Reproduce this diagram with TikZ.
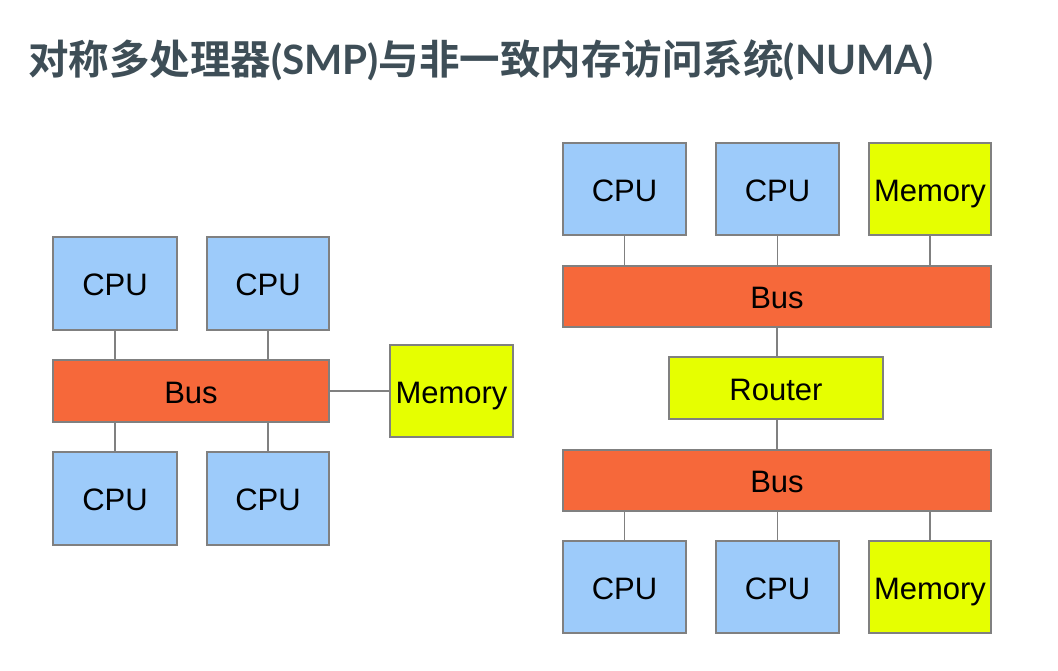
\documentclass[tikz,border=0pt]{standalone}
\usepackage{fontspec}
\setmainfont{Liberation Sans}
\newfontfamily\cjk{Noto Sans CJK SC}[BoldFont={Noto Sans CJK SC Bold}]
\newfontfamily\latotitle{Lato}
\definecolor{cpublue}{HTML}{9DCBFA}
\definecolor{busorange}{HTML}{F6683A}
\definecolor{memyellow}{HTML}{E6FF00}
\definecolor{edgegray}{HTML}{808080}
\definecolor{titlegray}{HTML}{3E4E57}
\begin{document}
\begin{tikzpicture}[x=1pt,y=-1pt,
  box/.style={draw=edgegray,line width=1.2pt,inner sep=0pt,font=\fontsize{31}{33}\selectfont,text=black,text height=25pt,text depth=1pt},
  cpu/.style={box,fill=cpublue},
  mem/.style={box,fill=memyellow},
  bus/.style={box,fill=busorange},
  link/.style={draw=edgegray,line width=1.2pt}]
\useasboundingbox (0,0) rectangle (1058,670);
\fill[white] (0,0) rectangle (1058,670);
\node[anchor=base west,text=titlegray,inner sep=0pt,font=\fontsize{40.5}{42}\selectfont\bfseries] (title) at (28,74)
  {{\cjk 对称多处理器}{\latotitle\bfseries (SMP)}{\cjk 与非一致内存访问系统}{\latotitle\bfseries (NUMA)}};
% SMP
\node[cpu,minimum width=124pt,minimum height=93pt] (c1) at (115,283.5) {CPU};
\node[cpu,minimum width=122pt,minimum height=93pt] (c2) at (268,283.5) {CPU};
\node[bus,minimum width=276pt,minimum height=62pt] (b1) at (191,391) {Bus};
\node[cpu,minimum width=124pt,minimum height=93pt] (c3) at (115,498.5) {CPU};
\node[cpu,minimum width=122pt,minimum height=93pt] (c4) at (268,498.5) {CPU};
\node[mem,minimum width=123pt,minimum height=92pt] (m1) at (451.5,391) {Memory};
\draw[link] (c1.south) -- (c1.south |- b1.north);
\draw[link] (c2.south) -- (c2.south |- b1.north);
\draw[link] (c3.north) -- (c3.north |- b1.south);
\draw[link] (c4.north) -- (c4.north |- b1.south);
\draw[link] (b1.east) -- (m1.west);
% NUMA
\node[cpu,minimum width=123pt,minimum height=92pt] (n1) at (624.5,189) {CPU};
\node[cpu,minimum width=123pt,minimum height=92pt] (n2) at (777.5,189) {CPU};
\node[mem,minimum width=122pt,minimum height=92pt] (nm1) at (930,189) {Memory};
\node[bus,minimum width=428pt,minimum height=61pt] (nb1) at (777,296.5) {Bus};
\node[mem,minimum width=214pt,minimum height=62pt] (r) at (776,388) {Router};
\node[bus,minimum width=428pt,minimum height=61pt] (nb2) at (777,480.5) {Bus};
\node[cpu,minimum width=123pt,minimum height=92pt] (n3) at (624.5,587) {CPU};
\node[cpu,minimum width=123pt,minimum height=92pt] (n4) at (777.5,587) {CPU};
\node[mem,minimum width=122pt,minimum height=92pt] (nm2) at (930,587) {Memory};
\draw[link] (n1.south) -- (n1.south |- nb1.north);
\draw[link] (n2.south) -- (n2.south |- nb1.north);
\draw[link] (nm1.south) -- (nm1.south |- nb1.north);
\draw[link] (n3.north) -- (n3.north |- nb2.south);
\draw[link] (n4.north) -- (n4.north |- nb2.south);
\draw[link] (nm2.north) -- (nm2.north |- nb2.south);
\draw[link] (r.north -| nb1.south) -- (nb1.south);
\draw[link] (r.south -| nb2.north) -- (nb2.north);
\end{tikzpicture}
\end{document}
